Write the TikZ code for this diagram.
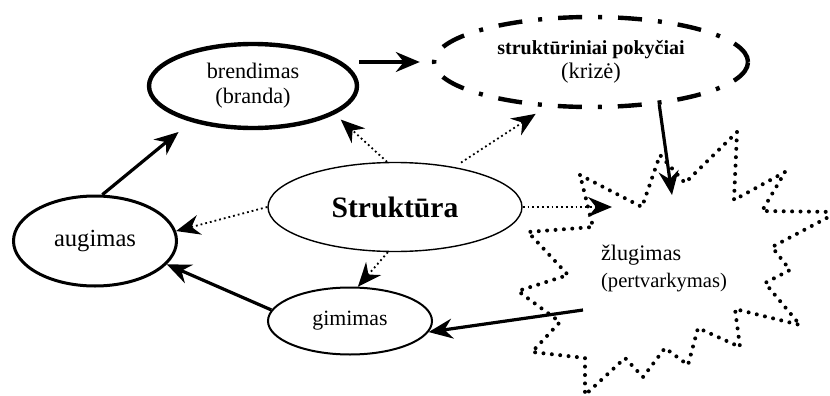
\documentclass[tikz,border=0pt]{standalone}
\usepackage{fontspec}
\setmainfont{Liberation Serif}
\usetikzlibrary{arrows.meta,shapes.geometric}

\begin{document}
\begin{tikzpicture}[x=0.5pt,y=-0.5pt,
  stage/.style={ellipse, draw, inner sep=0pt, align=center, font=\fontsize{11.1}{12.5}\selectfont},
  arr/.style={-{Stealth[length=12pt,width=10pt,inset=4pt]}, line width=1.6pt},
  dotarr/.style={-{Stealth[length=12pt,width=10pt,inset=4pt]}, line width=0.9pt, dash pattern=on 0.9pt off 1.5pt},
  burst/.style={line width=2pt, line cap=round, line join=round, dash pattern=on 0pt off 4.2pt}]
\useasboundingbox (0,0) rectangle (830,396);
%----zlugimas (starburst)-----------------------
\draw[burst] (580,175) -- (642,207) -- (660,155) -- (685,183) -- (737,132) -- (734,200)
  -- (785,172) -- (762,211) -- (838,212) -- (772,247) -- (790,270) -- (765,283)
  -- (800,325) -- (735,309) -- (740,347) -- (698,328) -- (688,365) -- (665,348)
  -- (643,377) -- (625,358) -- (585,395) -- (585,358) -- (532,352) -- (560,322)
  -- (518,291) -- (568,275) -- (528,232) -- (593,227) -- cycle;
\node[align=left, inner sep=0pt, font=\fontsize{11.1}{13.5}\selectfont] (zlug) at (664,268)
  {žlugimas\\{\fontsize{10.3}{13.5}\selectfont (pertvarkymas)}};
\coordinate (zIn) at (672,195);
\coordinate (zOut) at (583,310);
\coordinate (zDot) at (612,207);
%----stages-------------------------------------
\node[stage, line width=2.2pt, minimum width=104pt, minimum height=42pt] (brend) at (253,86)
  {brendimas\\(branda)};
\node[stage, line width=2.2pt, dash pattern=on 12pt off 8pt on 2pt off 8pt,
  minimum width=157pt, minimum height=45pt, font=\fontsize{11.2}{12}\selectfont] (krize) at (591,62)
  {{\bfseries\fontsize{10}{12}\selectfont struktūriniai pokyčiai}\\(krizė)};
\node[stage, line width=0.7pt, minimum width=127pt, minimum height=44.5pt,
  font=\fontsize{14.8}{17}\selectfont\bfseries] (struk) at (395,207) {Struktūra};
\node[stage, line width=1.5pt, minimum width=81.5pt, minimum height=45pt,
  font=\fontsize{12.3}{14}\selectfont] (aug) at (95,241) {augimas};
\node[stage, line width=1pt, minimum width=82pt, minimum height=33.5pt,
  font=\fontsize{10.9}{13}\selectfont] (gim) at (350,321) {gimimas};
%----cycle arrows-------------------------------
\draw[arr, shorten >=6pt] (brend.east |- krize.west) -- (krize.west);
\draw[arr] (krize.-32) -- (zIn);
\draw[arr] (zOut) -- (gim.-8);
\draw[arr] (gim.172) -- (aug.-18);
\draw[arr, shorten >=8pt] (aug.81) -- (brend.210);
%----struktura arrows---------------------------
\draw[dotarr, shorten >=4pt] (struk.100) -- (brend.-19);
\draw[dotarr, shorten <=4pt, shorten >=6pt] (struk.34) -- (krize.225);
\draw[dotarr] (struk.west) -- (aug.7);
\draw[dotarr] (struk.261) -- (gim.77);
\draw[dotarr] (struk.east) -- (zDot);
\end{tikzpicture}
\end{document}
